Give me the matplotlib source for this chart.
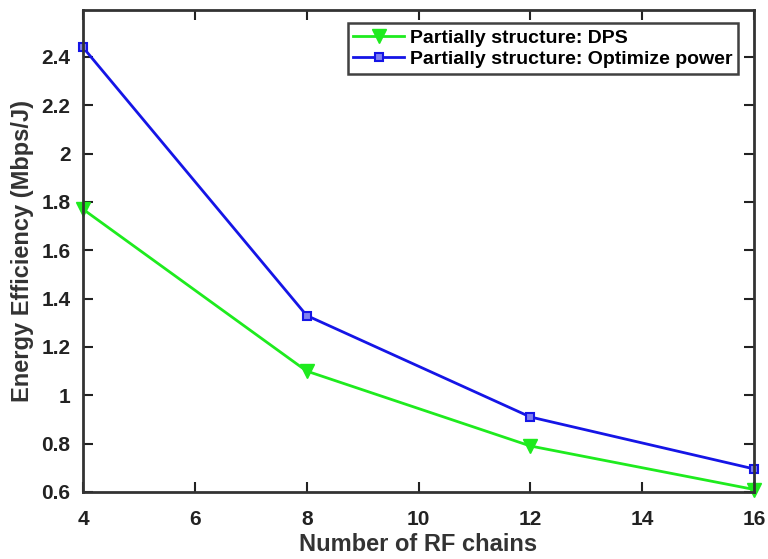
import matplotlib
matplotlib.use('Agg')
import matplotlib.pyplot as plt

rf_chains = [4, 8, 12, 16]
ee_dps = [1.77, 1.10, 0.79, 0.61]
ee_opt = [2.44, 1.33, 0.91, 0.695]
series_labels = ["Partially structure: DPS", "Partially structure: Optimize power"]
x_ticks = [4, 6, 8, 10, 12, 14, 16]
y_ticks = [0.6, 0.8, 1.0, 1.2, 1.4, 1.6, 1.8, 2.0, 2.2, 2.4]

plt.rcParams['font.family'] = ['Liberation Sans', 'DejaVu Sans']
plt.rcParams['font.weight'] = 'bold'
plt.rcParams['axes.labelweight'] = 'bold'

fig = plt.figure(figsize=(7.68, 5.59), dpi=100)
ax = fig.add_axes([0.108, 0.12, 0.874, 0.862])

ax.plot(rf_chains, ee_dps, color='#1EEB1E', lw=2, marker='v', ms=10,
        mfc='#1EEB1E', mec='#1EEB1E', label=series_labels[0], clip_on=False)
ax.plot(rf_chains, ee_opt, color='#1515E6', lw=2, marker='s', ms=6,
        mfc='#8080F0', mec='#1515E6', mew=1.5, label=series_labels[1], clip_on=False)

ax.set_xlim(4, 16)
ax.set_ylim(0.6, 2.594)
ax.set_xticks(x_ticks)
ax.set_yticks(y_ticks)
ax.set_xticklabels([str(v) for v in x_ticks])
ax.set_yticklabels(['%g' % v for v in y_ticks])
ax.tick_params(direction='in', length=7, width=1.5, labelsize=15,
               top=True, right=True, colors='#222222')
ax.tick_params(axis='x', pad=13)
ax.tick_params(axis='y', pad=9)
for s in ax.spines.values():
    s.set_linewidth(2)
    s.set_color('#333333')

ax.set_xlabel("Number of RF chains", fontsize=17, color='#333333', labelpad=3)
ax.set_ylabel("Energy Efficiency (Mbps/J)", fontsize=17, color='#333333', labelpad=5)

leg = ax.legend(loc='upper right', bbox_to_anchor=(0.976, 0.973), borderaxespad=0,
                prop={'family': 'Liberation Sans', 'weight': 'bold', 'size': 14},
                frameon=True, fancybox=False, handlelength=2.6,
                handletextpad=0.3, borderpad=0.3, labelspacing=0.2)
leg.get_frame().set_edgecolor('#111111')
leg.get_frame().set_linewidth(1.8)

fig.savefig("out.png", dpi=100, facecolor='w')
